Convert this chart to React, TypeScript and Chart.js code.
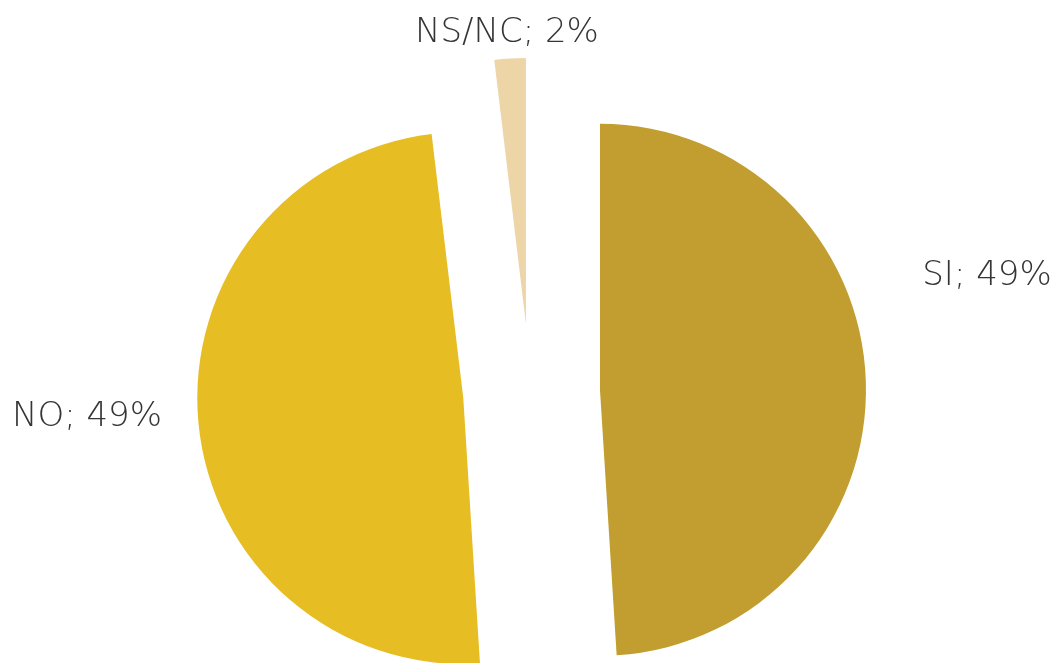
import React, { useEffect, useRef } from "react";
import { Chart, registerables } from "chart.js";

Chart.register(...registerables);

const categories = ["SI", "NO", "NS/NC"];
const values = [49.0, 49.1, 1.9];
const valueLabels = ["49%", "49%", "2%"];
const colors = ["#C29D30", "#E6BD22", "#EDD5A7"];
const explodeDistances = [70, 67, 68];

const explodePlugin = {
  id: "explode",
  afterDatasetsUpdate(chart: any) {
    const meta = chart.getDatasetMeta(0);
    meta.data.forEach((arc: any, i: number) => {
      const mid = (arc.startAngle + arc.endAngle) / 2;
      arc.x += Math.cos(mid) * explodeDistances[i];
      arc.y += Math.sin(mid) * explodeDistances[i];
    });
  },
};

const labelPlugin = {
  id: "sliceLabels",
  afterDraw(chart: any) {
    const meta = chart.getDatasetMeta(0);
    const ctx = chart.ctx;
    const area = chart.chartArea;
    const cx = (area.left + area.right) / 2;
    const cy = (area.top + area.bottom) / 2;
    const E = 70;
    ctx.save();
    ctx.font = "200 34px 'DejaVu Sans'";
    ctx.fillStyle = "#353535";
    ctx.textBaseline = "middle";
    meta.data.forEach((arc: any, i: number) => {
      const R = arc.outerRadius;
      const text = `${categories[i]}; ${valueLabels[i]}`;
      let x = cx, y = cy;
      if (i === 0) {
        ctx.textAlign = "center";
        x = cx + R + E + 121;
        y = cy - 116;
      } else if (i === 1) {
        ctx.textAlign = "right";
        x = cx - R - E - 32;
        y = cy + 25;
      } else {
        ctx.textAlign = "center";
        x = cx - 23;
        y = cy - R - E - 23;
      }
      ctx.fillText(text, x, y);
    });
    ctx.restore();
  },
};

export default function App() {
  const ref = useRef<HTMLCanvasElement | null>(null);
  useEffect(() => {
    if (!ref.current) return;
    const chart = new Chart(ref.current, {
      type: "pie",
      data: {
        labels: categories,
        datasets: [
          {
            data: values,
            backgroundColor: colors,
            borderWidth: 0,
          },
        ],
      },
      options: {
        responsive: false,
        animation: false,
        radius: 266,
        layout: { padding: { left: 6, right: 0, top: 121, bottom: 0 } },
        plugins: { legend: { display: false }, tooltip: { enabled: false } },
      } as any,
      plugins: [explodePlugin, labelPlugin],
    });
    return () => chart.destroy();
  }, []);
  return (
    <div style={{ position: "fixed", left: 0, top: 0, width: 1054, height: 663, background: "#fff" }}>
      <canvas ref={ref} width={1054} height={663} style={{ display: "block" }} />
    </div>
  );
}
